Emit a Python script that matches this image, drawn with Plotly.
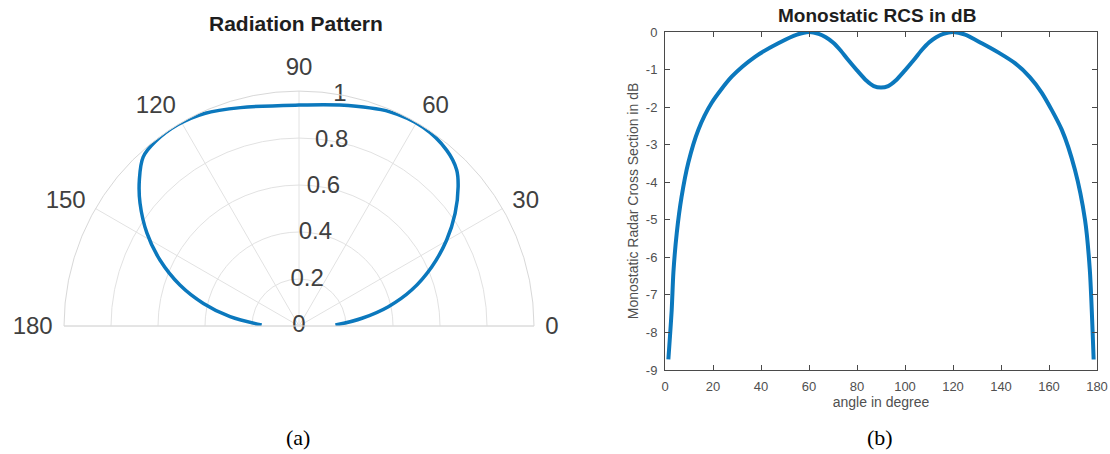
import plotly.graph_objects as go

# ---- (a) Radiation pattern (polar) ----
pattern_theta = [1.5, 7, 12.2, 17.7, 24, 30.2, 35.8, 41.2, 44.7, 50, 58, 67, 79.5, 90,
                 105, 114, 121, 128, 132.7, 137.6, 142.3, 148.6, 154.6, 161, 166.7, 172.3, 178.5]
pattern_r = [0.155, 0.27, 0.389, 0.503, 0.618, 0.727, 0.819, 0.90, 0.944, 0.977, 0.997, 0.99,
             0.956, 0.94, 0.962, 0.99, 1.0, 0.995, 0.978, 0.92, 0.855, 0.758, 0.655, 0.536, 0.418,
             0.296, 0.159]
angular_ticks = [0, 30, 60, 90, 120, 150, 180]
radial_ticks = [0, 0.2, 0.4, 0.6, 0.8, 1]
radial_labels = ["0", "0.2", "0.4", "0.6", "0.8", "1"]
radial_label_angle = 80

# ---- (b) Monostatic RCS in dB ----
rcs_angle = [1.4, 2.8, 3.5, 4.9, 6.9, 9.7, 13.9, 19.4, 27.8, 37.5, 47.2, 55, 60, 64, 67, 70, 73, 76,
             80, 84, 87, 90, 93, 96, 100, 104, 107, 110, 113, 116, 120, 125, 132, 139, 145.8, 152,
             157, 165.3, 170.8, 175, 177, 178.6]
rcs_db = [-8.72, -7.39, -6.4, -5.35, -4.39, -3.48, -2.6, -1.89, -1.19, -0.66, -0.3, -0.07, 0, -0.05,
          -0.14, -0.28, -0.48, -0.72, -1.02, -1.3, -1.44, -1.48, -1.44, -1.3, -1.02, -0.72, -0.48,
          -0.28, -0.14, -0.05, 0, -0.07, -0.3, -0.55, -0.83, -1.2, -1.62, -2.6, -3.67, -5.0,
          -6.33, -8.72]
x_ticks = list(range(0, 181, 20))
y_ticks = list(range(-9, 1))

W, H = 1110, 454
BLUE = "#0b78bd"
SANS = "Liberation Sans, Arial, sans-serif"
GRAY = "#404040"

fig = go.Figure()

fig.add_trace(go.Scatterpolar(
    r=pattern_r, theta=pattern_theta, mode="lines",
    line=dict(color=BLUE, width=3.5, shape="spline", smoothing=1.0),
    showlegend=False, hoverinfo="skip", subplot="polar"))

fig.add_trace(go.Scatterpolar(
    r=radial_ticks, theta=[radial_label_angle] * len(radial_ticks), mode="text",
    text=radial_labels, textposition="middle center",
    textfont=dict(family=SANS, size=24, color=GRAY),
    cliponaxis=False, showlegend=False, hoverinfo="skip", subplot="polar"))

fig.add_trace(go.Scatter(
    x=rcs_angle, y=rcs_db, mode="lines",
    line=dict(color=BLUE, width=4, shape="spline", smoothing=0.7),
    showlegend=False, hoverinfo="skip", xaxis="x", yaxis="y"))

def px_x(v):
    return v / W

def px_y(v):
    return 1 - v / H

fig.update_layout(
    template="none",
    width=W, height=H,
    margin=dict(l=0, r=0, t=0, b=0, pad=0, autoexpand=False),
    paper_bgcolor="white", plot_bgcolor="white",
    font=dict(family=SANS, color=GRAY),
    polar=dict(
        domain=dict(x=[px_x(64), px_x(534)], y=[px_y(326), px_y(91)]),
        sector=[0, 180],
        bgcolor="white",
        radialaxis=dict(range=[0, 1], tickvals=radial_ticks, showticklabels=False,
                        ticks="", showline=False, gridcolor="#e2e2e2", gridwidth=1),
        angularaxis=dict(tickmode="array", tickvals=angular_ticks,
                         ticktext=[str(t) for t in angular_ticks],
                         direction="counterclockwise", rotation=0,
                         ticks="outside", ticklen=6, tickcolor="rgba(0,0,0,0)",
                         showline=True, linecolor="#d8d8d8", linewidth=1,
                         gridcolor="#e2e2e2", gridwidth=1,
                         tickfont=dict(family=SANS, size=24, color=GRAY)),
    ),
    xaxis=dict(domain=[px_x(665), px_x(1097)], range=[0, 180], tickmode="array",
               tickvals=x_ticks, ticktext=[str(t) for t in x_ticks], automargin=False,
               ticks="inside", ticklen=5, tickcolor="#4a4a4a",
               showline=True, linecolor="#4a4a4a", linewidth=1, mirror="ticks",
               showgrid=False, zeroline=False, anchor="y",
               tickfont=dict(family=SANS, size=13, color="#505050"),
               ticklabelstandoff=4,
               title=dict(text="angle in degree", standoff=4,
                          font=dict(family=SANS, size=14, color="#505050"))),
    yaxis=dict(domain=[px_y(370), px_y(32)], range=[-9, 0], tickmode="array",
               tickvals=y_ticks, ticktext=[str(t) for t in y_ticks], automargin=False,
               ticks="inside", ticklen=5, tickcolor="#4a4a4a",
               showline=True, linecolor="#4a4a4a", linewidth=1, mirror="ticks",
               showgrid=False, zeroline=False, anchor="x",
               tickfont=dict(family=SANS, size=13, color="#505050"),
               ticklabelstandoff=4,
               title=dict(text="Monostatic Radar Cross Section in dB", standoff=3,
                          font=dict(family=SANS, size=14, color="#505050"))),
    annotations=[
        dict(text="<b>Radiation Pattern</b>", x=px_x(296), y=px_y(24), xref="paper", yref="paper",
             showarrow=False, xanchor="center", yanchor="middle",
             font=dict(family=SANS, size=21, color="#1e1e1e")),
        dict(text="<b>Monostatic RCS in dB</b>", x=px_x(877), y=px_y(15), xref="paper", yref="paper",
             showarrow=False, xanchor="center", yanchor="middle",
             font=dict(family=SANS, size=19, color="#1e1e1e")),
        dict(text="(a)", x=px_x(298), y=px_y(437), xref="paper", yref="paper",
             showarrow=False, xanchor="center", yanchor="middle",
             font=dict(family="Liberation Serif, Times New Roman, serif", size=22, color="black")),
        dict(text="(b)", x=px_x(880), y=px_y(437), xref="paper", yref="paper",
             showarrow=False, xanchor="center", yanchor="middle",
             font=dict(family="Liberation Serif, Times New Roman, serif", size=22, color="black")),
    ],
)

reset_page = (
    "document.documentElement.style.margin='0';"
    "document.documentElement.style.overflow='hidden';"
    "document.body.style.margin='0';"
    "document.body.style.overflow='hidden';"
)

fig.write_html("out.html", config={"displayModeBar": False, "staticPlot": True},
               post_script=reset_page)
